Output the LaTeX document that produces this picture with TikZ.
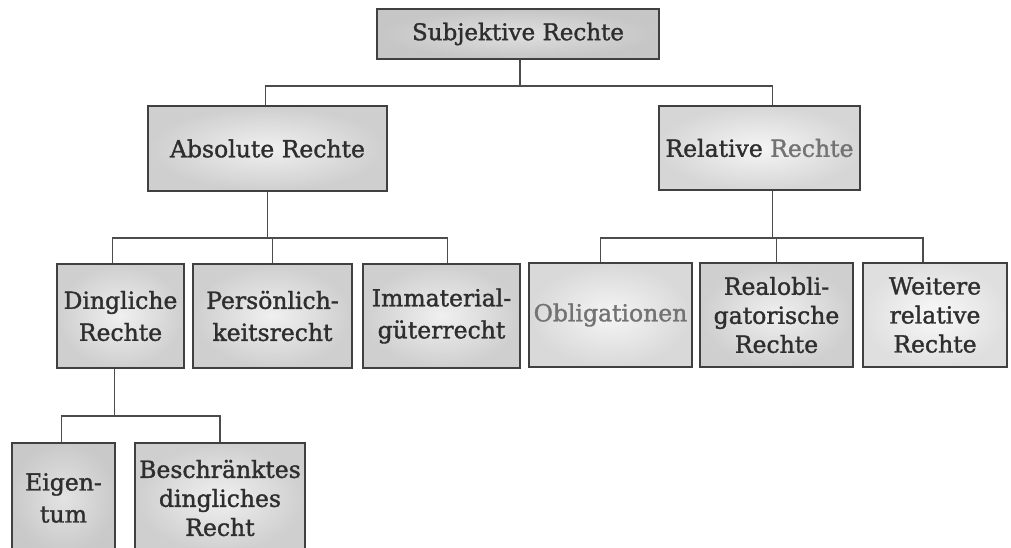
\documentclass[tikz,border=0pt]{standalone}
\usepackage{fontspec}
\setmainfont{DejaVu Serif}[BoldFont=DejaVu Serif, BoldFeatures={FakeBold=1.4}]
\begin{document}
\begin{tikzpicture}[x=1pt,y=-1pt,
  box/.style={draw=black!75, line width=1.8pt, rectangle, inner sep=0pt,
    align=center, text=black!82, font=\fontsize{23.5}{32}\selectfont\bfseries,
    inner color=gray!12, outer color=gray!38},
  tightbox/.style={box, font=\fontsize{23.5}{29}\selectfont\bfseries},
  wire/.style={draw=black!70, line width=1.4pt}]
\useasboundingbox (0,0) rectangle (1011,547);
\begin{scope}
\clip (0,0) rectangle (1011,547);
% top level
\node[box, minimum width=282pt, minimum height=50pt, inner color=gray!25, outer color=gray!45,
  font=\fontsize{23}{30}\selectfont\bfseries] (subj) at (518,34) {Subjektive Rechte};
% second level
\node[box, minimum width=239pt, minimum height=85pt] (abs) at (267.5,148.5) {Absolute Rechte};
\node[box, minimum width=201pt, minimum height=84pt, inner color=gray!8, outer color=gray!32] (rel) at (759.5,148)
  {Relative \textcolor{black!55}{Rechte}};
% third level, absolute branch
\node[box, minimum width=127pt, minimum height=104pt] (ding) at (120.5,316) {Dingliche\\Rechte};
\node[box, minimum width=159pt, minimum height=104pt] (pers) at (272.5,316) {Persönlich-\\keitsrecht};
\node[box, minimum width=157pt, minimum height=104pt] (imm) at (441.5,316) {Immaterial-\\güterrecht};
% third level, relative branch
\node[box, minimum width=163pt, minimum height=104pt, inner color=gray!8, outer color=gray!30,
  text=black!55] (obl) at (610.5,315) {Obligationen};
\node[tightbox, minimum width=153pt, minimum height=104pt] (realobl) at (776.5,315)
  {Realobli-\\gatorische\\Rechte};
\node[tightbox, minimum width=144pt, minimum height=104pt, inner color=gray!5, outer color=gray!25] (weit) at (935,315)
  {Weitere\\relative\\Rechte};
% fourth level
\node[box, minimum width=103pt, minimum height=110pt, inner color=gray!22, outer color=gray!42] (eig) at (63.5,498) {Eigen-\\tum};
\node[tightbox, minimum width=170pt, minimum height=110pt] (beschr) at (220,498)
  {Beschränktes\\dingliches\\Recht};
\end{scope}
% connectors
\draw[wire] ([xshift=2pt]subj.south) -- ++(0,26) coordinate (b1);
\draw[wire] ([xshift=-2pt]abs.north) |- (b1) -| ([xshift=13pt]rel.north);
\draw[wire] (abs.south) -- ++(0,46) coordinate (b2);
\draw[wire] ([xshift=-8pt]ding.north) |- (b2) -| ([xshift=6pt]imm.north);
\draw[wire] (pers.north) -- (pers.north |- b2);
\draw[wire] ([xshift=13pt]rel.south) -- ++(0,47) coordinate (b3);
\draw[wire] ([xshift=-10pt]obl.north) |- (b3) -| ([xshift=-12pt]weit.north);
\draw[wire] (realobl.north) -- (realobl.north |- b3);
\draw[wire] ([xshift=-6pt]ding.south) -- ++(0,47) coordinate (b4);
\draw[wire] ([xshift=-2pt]eig.north) |- (b4) -| (beschr.north);
\end{tikzpicture}
\end{document}
